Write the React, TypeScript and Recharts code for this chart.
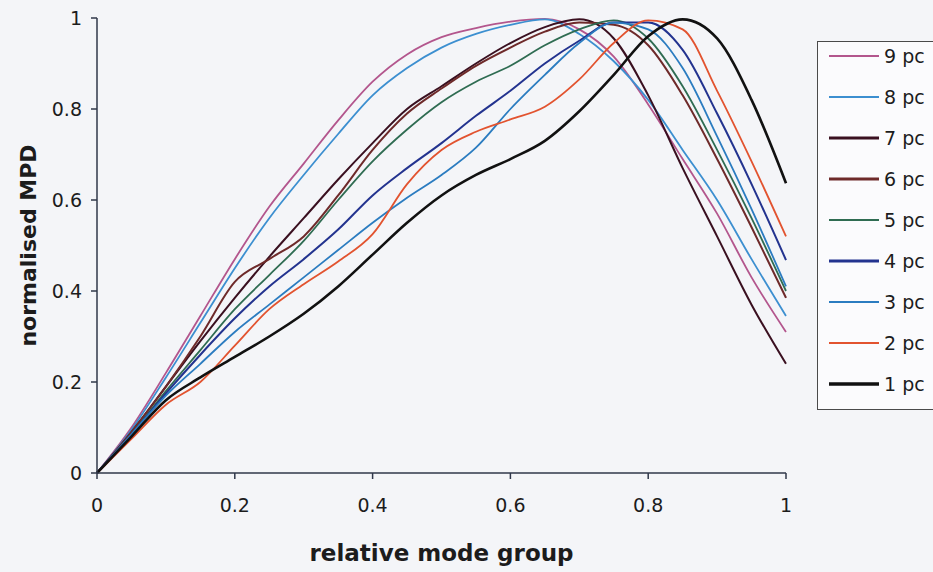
import React from 'react';
import { LineChart, Line, XAxis, YAxis } from 'recharts';

// relative mode group (x)
const modeGroup = [0, 0.05, 0.1, 0.15, 0.2, 0.25, 0.3, 0.35, 0.4, 0.45, 0.5, 0.55, 0.6, 0.65, 0.7, 0.75, 0.8, 0.85, 0.9, 0.95, 1];

// normalised MPD per curve
const pc9 = [0, 0.1, 0.22, 0.345, 0.47, 0.585, 0.68, 0.775, 0.86, 0.92, 0.958, 0.978, 0.992, 0.998, 0.975, 0.915, 0.81, 0.69, 0.57, 0.43, 0.31];
const pc8 = [0, 0.095, 0.21, 0.33, 0.45, 0.56, 0.655, 0.745, 0.83, 0.89, 0.935, 0.965, 0.985, 0.997, 0.965, 0.905, 0.82, 0.71, 0.6, 0.47, 0.345];
const pc7 = [0, 0.09, 0.19, 0.29, 0.385, 0.475, 0.56, 0.645, 0.725, 0.8, 0.85, 0.9, 0.945, 0.98, 0.997, 0.955, 0.83, 0.67, 0.52, 0.37, 0.24];
const pc6 = [0, 0.09, 0.19, 0.3, 0.42, 0.47, 0.52, 0.61, 0.71, 0.79, 0.845, 0.895, 0.935, 0.97, 0.99, 0.985, 0.94, 0.83, 0.69, 0.54, 0.385];
const pc5 = [0, 0.085, 0.18, 0.27, 0.36, 0.435, 0.51, 0.6, 0.685, 0.755, 0.815, 0.86, 0.895, 0.94, 0.975, 0.995, 0.955, 0.85, 0.71, 0.56, 0.4];
const pc4 = [0, 0.085, 0.175, 0.26, 0.34, 0.41, 0.47, 0.535, 0.61, 0.67, 0.725, 0.785, 0.84, 0.9, 0.95, 0.99, 0.99, 0.93, 0.79, 0.635, 0.468];
const pc3 = [0, 0.085, 0.17, 0.24, 0.31, 0.37, 0.43, 0.49, 0.55, 0.605, 0.655, 0.715, 0.8, 0.875, 0.945, 0.99, 0.975, 0.89, 0.74, 0.58, 0.41];
const pc2 = [0, 0.075, 0.15, 0.2, 0.28, 0.36, 0.415, 0.465, 0.525, 0.635, 0.71, 0.75, 0.777, 0.805, 0.865, 0.945, 0.995, 0.975, 0.84, 0.685, 0.52];
const pc1 = [0, 0.08, 0.16, 0.21, 0.255, 0.3, 0.35, 0.41, 0.48, 0.55, 0.61, 0.655, 0.69, 0.73, 0.795, 0.875, 0.96, 0.997, 0.955, 0.82, 0.637];

const xTicks = [0, 0.2, 0.4, 0.6, 0.8, 1];
const yTicks = [0, 0.2, 0.4, 0.6, 0.8, 1];

const series = [
  { key: 'pc9', name: '9 pc', values: pc9, color: '#b3568d', width: 1.8, legendWidth: 2 },
  { key: 'pc8', name: '8 pc', values: pc8, color: '#3c8fd0', width: 1.8, legendWidth: 2 },
  { key: 'pc7', name: '7 pc', values: pc7, color: '#3a1020', width: 2, legendWidth: 3 },
  { key: 'pc6', name: '6 pc', values: pc6, color: '#6e2a2a', width: 2, legendWidth: 3 },
  { key: 'pc5', name: '5 pc', values: pc5, color: '#2f6c52', width: 1.8, legendWidth: 2 },
  { key: 'pc4', name: '4 pc', values: pc4, color: '#23338f', width: 2, legendWidth: 3 },
  { key: 'pc3', name: '3 pc', values: pc3, color: '#2b7cc0', width: 1.8, legendWidth: 2 },
  { key: 'pc2', name: '2 pc', values: pc2, color: '#e2532f', width: 1.8, legendWidth: 2 },
  { key: 'pc1', name: '1 pc', values: pc1, color: '#111111', width: 2.6, legendWidth: 3.5 },
];

const data = modeGroup.map((x, i) => {
  const row: Record<string, number> = { x };
  series.forEach(s => { row[s.key] = s.values[i]; });
  return row;
});

const axisColor = '#30374a';
const tickStyle = { fill: '#1c1c1c', fontSize: 19, fontFamily: 'DejaVu Sans' };

const YTitle = (props: any) => {
  const vb = props.viewBox;
  const cx = vb.x + 28;
  const cy = vb.y + vb.height / 2;
  return (
    <text x={cx} y={cy} transform={`rotate(-90 ${cx} ${cy})`} textAnchor="middle" dominantBaseline="central"
      style={{ fontFamily: 'DejaVu Sans', fontWeight: 'bold', fontSize: 22, fill: '#1c1c1c' }}>
      normalised MPD
    </text>
  );
};

const XTitle = (props: any) => {
  const vb = props.viewBox;
  return (
    <text x={vb.x + vb.width / 2} y={vb.y + 88} textAnchor="middle"
      style={{ fontFamily: 'DejaVu Sans', fontWeight: 'bold', fontSize: 23, fill: '#1c1c1c' }}>
      relative mode group
    </text>
  );
};

// legend box runs off the right edge of the figure; the outer div clips it
const LegendBox = () => (
  <div style={{
    position: 'absolute', left: 817, top: 41, width: 150, boxSizing: 'border-box',
    border: '1px solid #4a4a4a', background: '#fbfbfd', padding: '4px 0 15px 11px',
    fontFamily: 'DejaVu Sans', fontSize: 19, color: '#1c1c1c',
    display: 'flex', flexDirection: 'column', gap: 21,
  }}>
    {series.map(s => (
      <div key={s.key} style={{ display: 'flex', alignItems: 'center', height: 20, whiteSpace: 'nowrap' }}>
        <svg width={50} height={6} style={{ display: 'block', flexShrink: 0 }}>
          <line x1={0} y1={3} x2={50} y2={3} stroke={s.color} strokeWidth={s.legendWidth} />
        </svg>
        <span style={{ marginLeft: 5 }}>{s.name}</span>
      </div>
    ))}
  </div>
);

export default function App() {
  return (
    <div style={{ position: 'relative', width: 933, height: 572, overflow: 'hidden', background: '#f4f5f8' }}>
      <style>{'body{margin:0;overflow:hidden;background:#f4f5f8}'}</style>
      <LineChart width={933} height={572} data={data} margin={{ top: 18, right: 147, bottom: 0, left: 0 }}>
        <XAxis dataKey="x" type="number" domain={[0, 1]} ticks={xTicks} height={99}
          stroke={axisColor} strokeWidth={1.5} tickSize={6} tickMargin={20} tick={tickStyle}
          tickFormatter={(v: number) => String(v)} label={<XTitle />} />
        <XAxis xAxisId="top" orientation="top" dataKey="x" type="number" domain={[0, 1]} height={0}
          tick={false} tickLine={false} stroke={axisColor} strokeWidth={1.8} />
        <YAxis type="number" domain={[0, 1]} ticks={yTicks} width={97}
          stroke={axisColor} strokeWidth={1.5} tickSize={6} tickMargin={9} tick={tickStyle}
          tickFormatter={(v: number) => String(v)} label={<YTitle />} />
        <YAxis yAxisId="right" orientation="right" type="number" domain={[0, 1]} width={0}
          tick={false} tickLine={false} stroke="#5a6480" strokeWidth={1.2} />
        {series.map(s => (
          <Line key={s.key} type="monotone" dataKey={s.key} name={s.name} stroke={s.color}
            strokeWidth={s.width} dot={false} activeDot={false} isAnimationActive={false} />
        ))}
      </LineChart>
      <LegendBox />
    </div>
  );
}
